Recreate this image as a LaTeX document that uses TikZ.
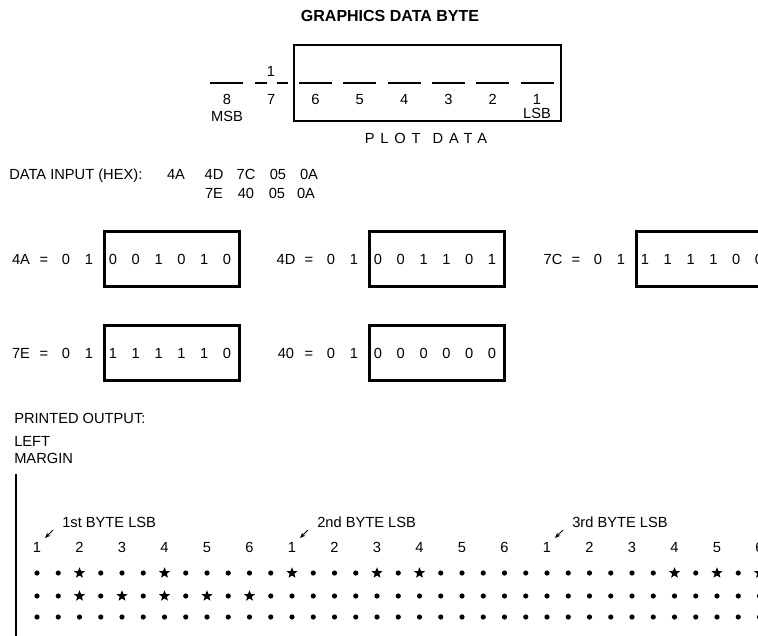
\documentclass[tikz,border=0pt]{standalone}
\usepackage{fontspec}
\setmainfont{Liberation Sans}
\newfontfamily\spacedfont[LetterSpace=40]{Liberation Sans}
\usetikzlibrary{arrows.meta,shapes.geometric}

\begin{document}
\begin{tikzpicture}[x=0.75pt, y=-0.75pt,
    every node/.style={inner sep=0pt, font=\fontsize{11}{13}\selectfont, text height=7.9pt, text depth=0pt},
    bytebox/.style={draw, line width=2.2pt, minimum width=101.25pt, minimum height=41.25pt},
    bitdash/.style={line width=2pt},
    pixdot/.style={circle, fill, minimum size=3.9pt, text height=0pt},
    pixstar/.style={star, star points=5, star point ratio=2.3, fill, minimum size=8.6pt, text height=0pt},
    lsbarrow/.style={-{Stealth[length=4.2pt,width=3.4pt]}, line width=0.75pt}]
	\useasboundingbox (0,0) rectangle (758,636);
	\clip (0,0) rectangle (758,636);
	\node[font=\bfseries\fontsize{12}{14}\selectfont, text height=8.6pt] (title) at (390,16) {GRAPHICS DATA BYTE};
	\node[draw, line width=2.2pt, minimum width=200.25pt, minimum height=57pt] (plotbox) at (427.5,83) {};
	\foreach \k in {1,...,8}
		\node (pos\k) at ({537-44.3*(\k-1)},99) {\k};
	\foreach \k in {1,2,3,4,5,6,8}
		\draw[bitdash] ({537-44.3*(\k-1)-16.5},83) -- ++(33,0);
	\draw[bitdash, dash pattern=on 9pt off 7.5pt] (255,83) -- (288,83);
	\node (fixed7) at (271,71) {1};
	\node (msb) at (227,116) {MSB};
	\node (lsb) at (537,113) {LSB};
	\node (plotdata) at (426,138) {\spacedfont PLOT\hspace{9pt}DATA};
	\node[anchor=west] (hexlbl) at (9,174) {DATA INPUT (HEX):};
	\foreach \h/\x in {4A/176,4D/214,7C/246,05/278,0A/309}
		\node (hexa\h) at (\x,174) {\h};
	\foreach \h/\x in {7E/214,40/246,05/277,0A/306}
		\node (hexb\h) at (\x,193) {\h};
	\foreach \n/\bx/\by/\bits in {4A/103/259/{0,0,1,0,1,0}, 4D/368/259/{0,0,1,1,0,1}, 7C/635/259/{1,1,1,1,0,0}, 7E/103/353/{1,1,1,1,1,0}, 40/368/353/{0,0,0,0,0,0}} {
		\node[bytebox, anchor=west] (box\n) at (\bx,\by) {};
		\node (hex\n) at (\bx-82,\by) {\n};
		\node (eq\n) at (\bx-59,\by) {=};
		\node (msb\n) at (\bx-37,\by) {0};
		\node (one\n) at (\bx-14,\by) {1};
		\foreach \d [count=\k] in \bits
			\node (bit\n-\k) at ({\bx+10+22.8*(\k-1)},\by) {\d};
	}
	\node[anchor=west] (printed) at (14,418) {PRINTED OUTPUT:};
	\node[anchor=west] (leftlbl) at (14,441) {LEFT};
	\node[anchor=west] (marginlbl) at (14,458) {MARGIN};
	\draw[line width=2.2pt] (16,474) -- (16,640);
	\foreach \i in {0,2,...,34} {
		\pgfmathtruncatemacro\num{mod(\i/2,6)+1}
		\node (n\i) at ({37+21.25*\i},547) {\num};
	}
	\foreach \c/\t in {0/1st,12/2nd,24/3rd} {
		\node[anchor=west] (lsb\c) at ({37+21.25*\c+25},522) {\t\ BYTE LSB};
		\draw[lsbarrow] ([shift={(-9,8)}]lsb\c.west) -- ([shift={(8,-9)}]n\c.center);
	}
	\foreach \r/\y/\stars in {1/573/{2,6,12,16,18,30,32,34}, 2/596/{2,4,6,8,10}, 3/617/{99}} {
		\foreach \i in {0,...,34} {
			\gdef\pixkind{0}
			\foreach \s in \stars {\ifnum\s=\i\relax\gdef\pixkind{1}\fi}
			\ifnum\pixkind=1
				\node[pixstar] (p\r-\i) at ({37+21.25*\i},\y) {};
			\else
				\node[pixdot] (p\r-\i) at ({37+21.25*\i},\y) {};
			\fi
		}
	}
\end{tikzpicture}
\end{document}
